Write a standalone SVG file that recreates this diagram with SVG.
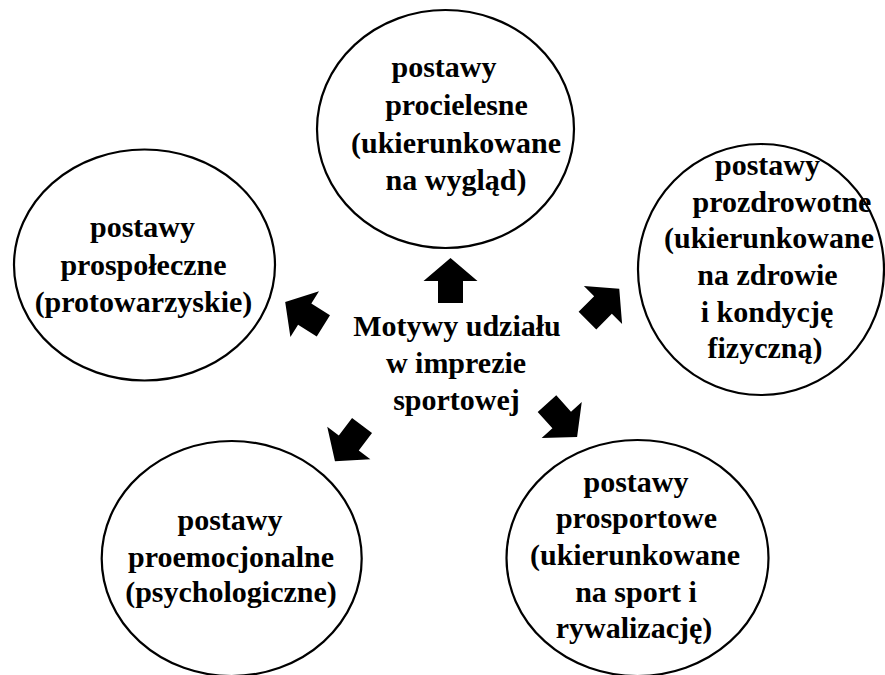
<svg xmlns="http://www.w3.org/2000/svg" width="885" height="675" viewBox="0 0 885 675">
  <style>
    .node ellipse { fill: #ffffff; stroke: #000000; stroke-width: 2.2; }
    text { font-family: 'Liberation Serif', 'Times New Roman', Times, serif; font-weight: 700; font-size: 30px; fill: #000000; text-anchor: middle; }
    .arrow { fill: #000000; }
  </style>
  <defs>
    <!-- block arrow pointing up, origin at the middle of the head base -->
    <polygon id="blockArrow" points="0,-23 27,0 12.5,0 12.5,22 -12.5,22 -12.5,0 -27,0"/>
  </defs>
  <rect width="885" height="675" fill="#ffffff"/>

  <!-- central label -->
  <g id="hub">
    <text x="457" y="336">Motywy udziału</text>
    <text x="456" y="373">w imprezie</text>
    <text x="456.5" y="410">sportowej</text>
  </g>

  <!-- block arrows radiating from the centre -->
  <g id="connectors" class="arrow">
    <use href="#blockArrow" transform="translate(450.5,281)"/>
    <use href="#blockArrow" transform="translate(304.7,314.2) rotate(-58)"/>
    <use href="#blockArrow" transform="translate(603,305) rotate(45)"/>
    <use href="#blockArrow" transform="translate(348.8,443) rotate(217)"/>
    <use href="#blockArrow" transform="translate(561.7,420) rotate(138)"/>
  </g>

  <g id="node-procielesne" class="node">
    <ellipse cx="445.5" cy="129" rx="128.5" ry="119"/>
    <text x="444" y="77">postawy</text>
    <text x="456.5" y="115">procielesne</text>
    <text x="456" y="153">(ukierunkowane</text>
    <text x="456" y="190">na wygląd)</text>
  </g>

  <g id="node-prozdrowotne" class="node">
    <ellipse cx="761" cy="269.5" rx="123" ry="125.5"/>
    <text x="767.5" y="175">postawy</text>
    <text x="782" y="211.5">prozdrowotne</text>
    <text x="769" y="248">(ukierunkowane</text>
    <text x="767.5" y="285">na zdrowie</text>
    <text x="767" y="321.5">i kondycję</text>
    <text x="765" y="358">fizyczną)</text>
  </g>

  <g id="node-prospoleczne" class="node">
    <ellipse cx="144.5" cy="265" rx="130.5" ry="115.5"/>
    <text x="142.5" y="237">postawy</text>
    <text x="143.5" y="275">prospołeczne</text>
    <text x="143.5" y="311.5">(protowarzyskie)</text>
  </g>

  <g id="node-proemocjonalne" class="node">
    <ellipse cx="231.7" cy="558.5" rx="130" ry="117.5"/>
    <text x="230" y="530">postawy</text>
    <text x="231" y="566.5">proemocjonalne</text>
    <text x="231" y="601.5">(psychologiczne)</text>
  </g>

  <g id="node-prosportowe" class="node">
    <ellipse cx="637.5" cy="558" rx="131" ry="118"/>
    <text x="636" y="491.5">postawy</text>
    <text x="636.5" y="528">prosportowe</text>
    <text x="635" y="565">(ukierunkowane</text>
    <text x="636" y="601.5">na sport i</text>
    <text x="634" y="638">rywalizację)</text>
  </g>
</svg>
